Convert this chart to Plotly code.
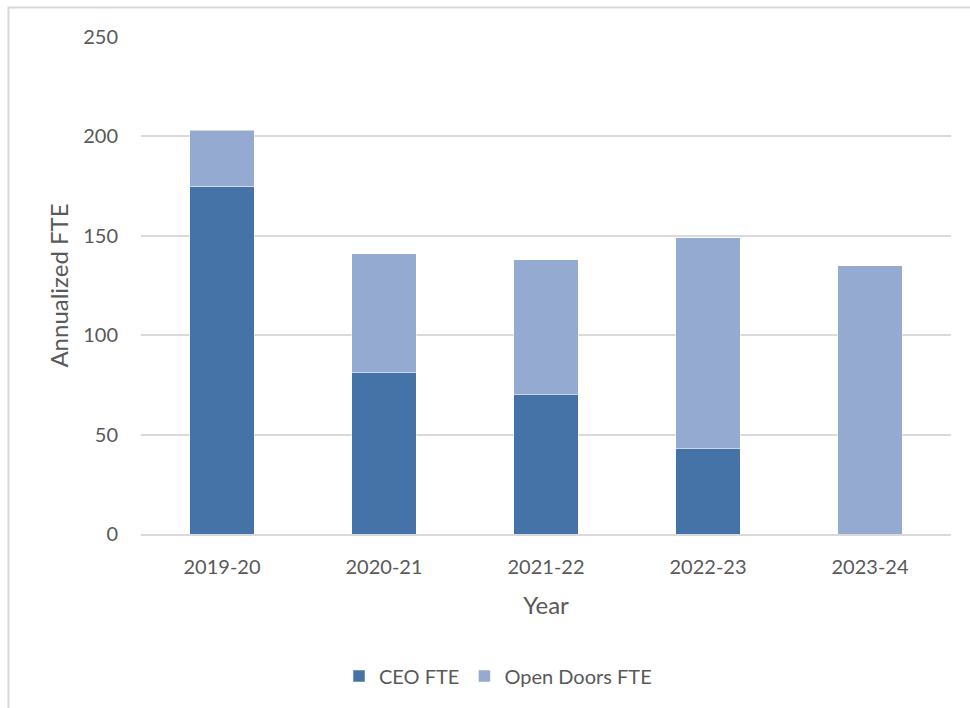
import plotly.graph_objects as go

years = ["2019-20", "2020-21", "2021-22", "2022-23", "2023-24"]
ceo_fte = [175, 81, 70, 43, 0]
open_doors_fte = [28, 60, 68, 106, 135]
y_ticks = [0, 50, 100, 150, 200, 250]

L, R, T, B = 141, 19, 37, 174
W, H = 970, 708
pw, ph = W - L - R, H - T - B

fig = go.Figure()
fig.add_trace(go.Bar(x=years, y=ceo_fte, name="CEO FTE",
                     marker=dict(color="#4573A7", line=dict(color="rgba(255,255,255,0.5)", width=1))))
fig.add_trace(go.Bar(x=years, y=open_doors_fte, name="Open Doors FTE",
                     marker=dict(color="#95AAD1", line=dict(color="rgba(255,255,255,0.5)", width=1))))

font_family = "Lato, 'Open Sans', sans-serif"
fig.update_layout(
    barmode="stack",
    bargap=0.6,
    width=W, height=H,
    margin=dict(l=L, r=R, t=T, b=B),
    paper_bgcolor="white",
    plot_bgcolor="white",
    font=dict(family=font_family, color="#595959", size=20),
    showlegend=True,
    legend=dict(orientation="h", x=(498 - L) / pw, xanchor="center",
                y=(T + ph - 676) / ph, yanchor="middle",
                font=dict(size=20, color="#595959"), traceorder="normal",
                itemwidth=30),
    xaxis=dict(title=dict(text="Year", standoff=20, font=dict(size=24)),
               showgrid=False, showline=True, linecolor="#D9D9D9", linewidth=2,
               ticks="", ticklabelstandoff=14, tickfont=dict(size=20)),
    yaxis=dict(title=dict(text="Annualized FTE", standoff=7, font=dict(size=24)),
               range=[0, 250], tickvals=y_ticks, showgrid=True, gridcolor="#D9D9D9",
               gridwidth=1.5, zeroline=False, showline=False, ticks="",
               ticklabelstandoff=22, tickfont=dict(size=20)),
    shapes=[dict(type="rect", xref="paper", yref="paper",
                 x0=(8.5 - L) / pw, x1=1 + (980 - (W - R)) / pw,
                 y0=(T + ph - 720) / ph, y1=1 + (T - 7.5) / ph,
                 line=dict(color="#D9D9D9", width=2), fillcolor="rgba(0,0,0,0)",
                 layer="below")],
)

fig.write_html("out.html")
